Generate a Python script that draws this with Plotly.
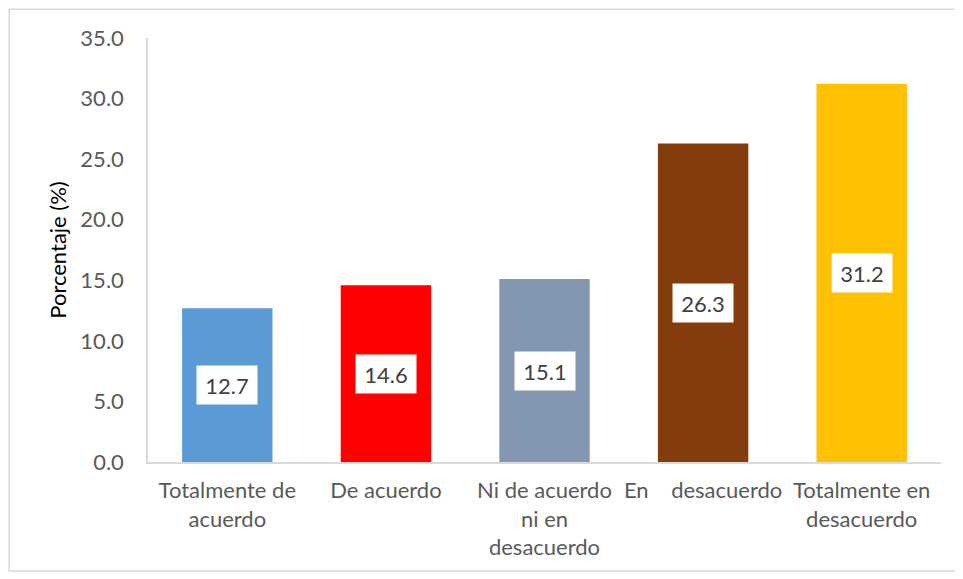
import plotly.graph_objects as go

categories = ["Totalmente de acuerdo", "De acuerdo", "Ni de acuerdo ni en desacuerdo",
              "En desacuerdo", "Totalmente en desacuerdo"]
tick_labels = ["Totalmente de<br>acuerdo", "De acuerdo", "Ni de acuerdo<br>ni en<br>desacuerdo",
               "En\u00a0\u00a0\u00a0\u00a0desacuerdo", "Totalmente en<br>desacuerdo"]
values = [12.7, 14.6, 15.1, 26.3, 31.2]
colors = ["#5B9BD5", "#FF0000", "#8497B0", "#843C0C", "#FFC000"]
y_ticks = [0, 5, 10, 15, 20, 25, 30, 35]

FONT = "Lato"

fig = go.Figure(go.Bar(x=categories, y=values, marker=dict(color=colors, line=dict(width=0)),
                       hoverinfo="skip"))

for c, v in zip(categories, values):
    fig.add_annotation(x=c, y=v / 2, text=f"{v:.1f}", showarrow=False,
                       bgcolor="white", borderpad=2, width=56, height=34,
                       font=dict(family=FONT, size=22, color="#404040"))

fig.add_shape(type="rect", xref="paper", yref="paper", x0=-0.175, x1=1.019, y0=-0.257, y1=1.068,
              line=dict(color="#D9D9D9", width=1.5))

fig.update_layout(
    width=955, height=571,
    margin=dict(l=140, r=22, t=30, b=117),
    plot_bgcolor="white", paper_bgcolor="white",
    bargap=0.43,
    showlegend=False,
    font=dict(family=FONT, size=22, color="#595959"),
    xaxis=dict(tickmode="array", tickvals=categories, ticktext=tick_labels,
               showline=True, linecolor="#D9D9D9", linewidth=1.5, ticks="",
               ticklabelstandoff=8,
               tickfont=dict(family=FONT, size=22, color="#595959"), showgrid=False),
    yaxis=dict(range=[0, 35], tickvals=y_ticks, tickformat=".1f",
               showline=True, linecolor="#D9D9D9", linewidth=1.5, ticks="",
               showgrid=False, zeroline=False, ticklabelstandoff=18,
               tickfont=dict(family=FONT, size=22, color="#595959"),
               title=dict(text="Porcentaje (%)", standoff=8,
                          font=dict(family=FONT, size=22, color="black"))),
)

fig.write_html("out.html")
